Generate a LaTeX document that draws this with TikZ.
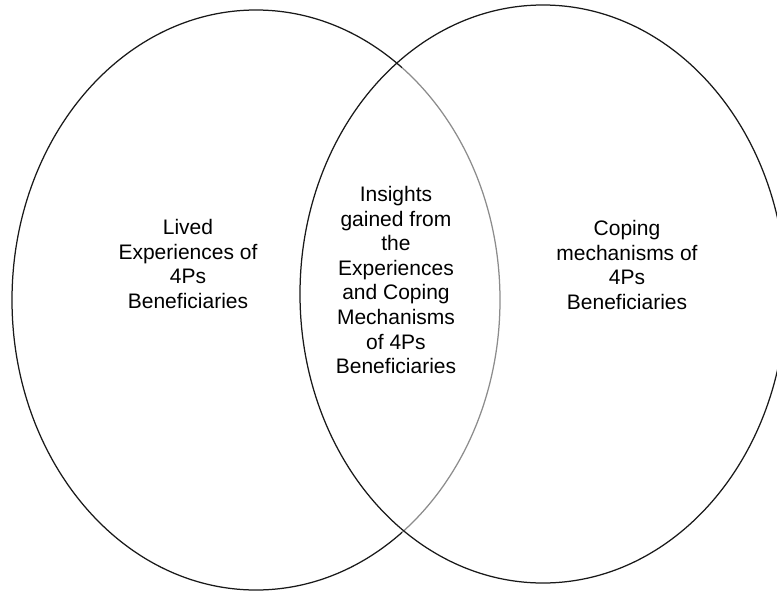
\documentclass[tikz,border=0pt]{standalone}
\usepackage{fontspec}
\setmainfont{Liberation Sans}
\begin{document}
\begin{tikzpicture}[x=1pt, y=-1pt,
		ring/.style={line width=1.25pt, draw=black!90},
		label/.style={align=center, text=black, font=\fontsize{21}{24.6}\selectfont}]
	\useasboundingbox (0,0) rectangle (777,592);
	% left set, black outside the overlap, grey inside it
	\begin{scope}
		\clip (0,0) rectangle (402,592);
		\draw[ring] (256,300) ellipse [x radius=244, y radius=290];
	\end{scope}
	\begin{scope}
		\clip (402,0) rectangle (777,592);
		\draw[ring, draw=black!45] (256,300) ellipse [x radius=244, y radius=290];
	\end{scope}
	% right set
	\draw[ring] (543,294) ellipse [x radius=243, y radius=289];
	\node[label] (lived) at (188,264) {Lived\\Experiences of\\4Ps\\Beneficiaries};
	\node[label] (insights) at (396,280) {Insights\\gained from\\the\\Experiences\\and Coping\\Mechanisms\\of 4Ps\\Beneficiaries};
	\node[label] (coping) at (627,265) {Coping\\mechanisms of\\4Ps\\Beneficiaries};
\end{tikzpicture}
\end{document}
